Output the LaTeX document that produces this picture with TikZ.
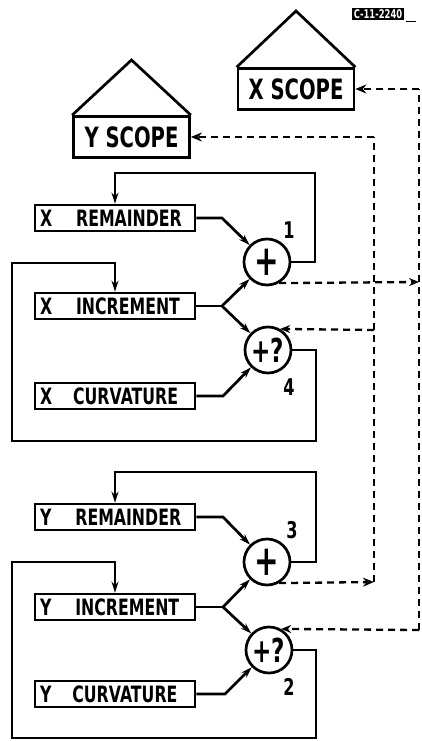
\documentclass[tikz,border=0pt]{standalone}
\usepackage{fontspec}
\newfontfamily\labfont[FakeStretch=0.7]{DejaVu Sans Bold}
\usetikzlibrary{arrows.meta}
\begin{document}
\begin{tikzpicture}[x=1pt,y=-1pt,line width=2.7pt,
 box/.style={draw,rectangle,minimum width=160pt,minimum height=26pt,text width=150pt,align=left,inner xsep=5pt,inner ysep=0pt,font=\labfont\fontsize{22.5}{22.5}\selectfont},
 scopebox/.style={draw,minimum width=116pt,minimum height=41pt,inner sep=0pt,font=\labfont\fontsize{28}{28}\selectfont},
 adder/.style={draw,circle,minimum size=46pt,inner sep=0pt,font=\labfont\fontsize{33}{33}\selectfont},
 plusadder/.style={adder,font=\labfont\fontsize{42}{42}\selectfont},
 num/.style={font=\labfont\fontsize{23}{23}\selectfont,inner sep=0pt},
 flow/.style={-{Stealth[length=11pt,width=7pt]}},
 sig/.style={line width=2.3pt,dash pattern=on 7pt off 5pt},
 sigopen/.style={sig,-{Stealth[open,length=10pt,width=8pt]}},
 sigfill/.style={sig,-{Stealth[length=11pt,width=9pt]}}
]
\useasboundingbox (0,0) rectangle (422,741);

% figure number
\node[fill=black,text=white,font=\labfont\fontsize{12}{12}\selectfont,inner xsep=2pt,inner ysep=1.5pt] (fig) at (378,14) {C-11-2240};
\draw[line width=1.6pt] (fig.south east) -- ++(10,0);

% scopes
\node[scopebox] (xscope) at (296,89) {X SCOPE};
\coordinate (xtop) at (296,11);
\draw (xscope.north west) -- (xtop) -- (xscope.north east);
\node[scopebox] (yscope) at (131.5,137) {Y SCOPE};
\coordinate (ytop) at (131.5,60);
\draw (yscope.north west) -- (ytop) -- (yscope.north east);

% registers
\node[box] (xrem)  at (115,218) {X\hspace{24pt}REMAINDER};
\node[box] (xinc)  at (115,306) {X\hspace{24pt}INCREMENT};
\node[box] (xcurv) at (115,396) {X\hspace{21pt}CURVATURE};
\node[box] (yrem)  at (115,517) {Y\hspace{24pt}REMAINDER};
\node[box] (yinc)  at (115,607) {Y\hspace{24pt}INCREMENT};
\node[box] (ycurv) at (115,694) {Y\hspace{21pt}CURVATURE};

% adders
\node[plusadder] (a1) at (267,262) {+};
\node[adder] (a4) at (268,350) {+?};
\node[plusadder] (a3) at (267,562) {+};
\node[adder] (a2) at (269,650) {+?};
\node[num] (n1) at (289,230) {1};
\node[num] (n4) at (289,387) {4};
\node[num] (n3) at (292,530) {3};
\node[num] (n2) at (289,687) {2};

% X section connections
\coordinate (xr) at (222,218);
\coordinate (xi) at (222,306);
\coordinate (xc) at (223,396);
\draw[flow] (xrem.east) -- (xr) -- (a1);
\draw (xinc.east) -- (xi);
\draw[flow] (xi) -- (a1);
\draw[flow] (xi) -- (a4);
\draw[flow] (xcurv.east) -- (xc) -- (a4);
\draw[flow] (a1.east) -- (315,262) -- (315,173) -- (115,173) -- (xrem.north);
\draw[flow] (a4.east) -- (316,350) -- (316,441) -- (12,441) -- (12,263) -- (115,263) -- (xinc.north);

% Y section connections
\coordinate (yr) at (223,517);
\coordinate (yi) at (223,607);
\coordinate (yc) at (225,694);
\draw[flow] (yrem.east) -- (yr) -- (a3);
\draw (yinc.east) -- (yi);
\draw[flow] (yi) -- (a3);
\draw[flow] (yi) -- (a2);
\draw[flow] (ycurv.east) -- (yc) -- (a2);
\draw[flow] (a3.east) -- (316,562) -- (316,472) -- (115,472) -- (yrem.north);
\draw[flow] (a2.east) -- (316,650) -- (316,738) -- (12,738) -- (12,562) -- (115,562) -- (yinc.north);

% dashed signal lines
\coordinate (iTop) at (374,137);
\coordinate (iMid) at (374,330);
\coordinate (iBot) at (374,582);
\coordinate (oTop) at (419,89);
\coordinate (oMid) at (419,282);
\coordinate (oBot) at (419,630);
\draw[sigfill] (a3.-60) -- (iBot);
\draw[sig] (iBot) -- (iTop);
\draw[sigfill] (iTop) -- (yscope.east);
\draw[sigopen] (iMid) -- (a4.60);
\draw[sigopen] (a1.-60) -- (oMid);
\draw[sig] (oBot) -- (oTop);
\draw[sigfill] (oTop) -- (xscope.east);
\draw[sigopen] (oBot) -- (a2.60);
\end{tikzpicture}
\end{document}
